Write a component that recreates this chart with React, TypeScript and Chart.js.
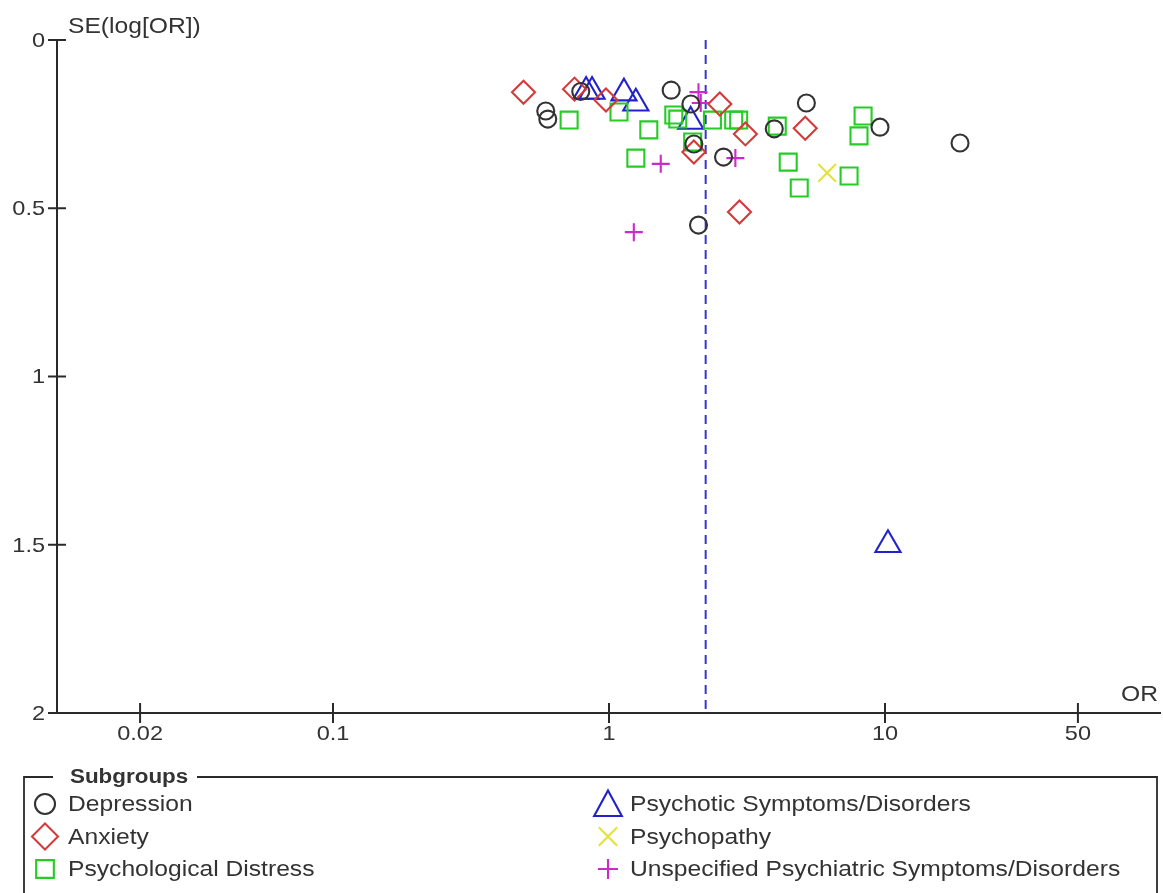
import React, { useEffect, useRef } from "react";
import { Chart, registerables } from "chart.js";

Chart.register(...registerables);

// ---- Data (OR on log scale, SE of log OR) ----
const depressionOR = [0.79, 0.59, 0.6, 1.68, 1.98, 2.03, 2.6, 2.11, 3.97, 5.19, 9.59, 18.7];
const depressionSE = [0.153, 0.211, 0.235, 0.149, 0.19, 0.309, 0.348, 0.55, 0.264, 0.187, 0.259, 0.306];

const anxietyOR = [0.49, 0.75, 0.975, 2.52, 2.03, 3.12, 5.14, 2.97];
const anxietySE = [0.155, 0.146, 0.178, 0.19, 0.333, 0.279, 0.262, 0.511];

const psychoticOR = [0.826, 0.868, 1.133, 1.251, 1.977, 10.25];
const psychoticSE = [0.153, 0.153, 0.158, 0.188, 0.242, 1.5];

const distressOR = [0.717, 1.087, 1.394, 1.251, 1.717, 1.775, 2.37, 2.83, 2.95, 2.01, 4.07, 4.46, 4.89, 7.41, 8.33, 8.05];
const distressSE = [0.238, 0.214, 0.267, 0.351, 0.223, 0.235, 0.238, 0.238, 0.238, 0.303, 0.256, 0.363, 0.44, 0.404, 0.226, 0.285];

const psychopathyOR = [6.17];
const psychopathySE = [0.395];

const unspecifiedOR = [2.11, 2.15, 2.87, 1.54, 1.23];
const unspecifiedSE = [0.155, 0.187, 0.351, 0.368, 0.571];

const pooledOR = 2.24;

const xTickValues = [0.02, 0.1, 1, 10, 50];
const xTickLabels = ["0.02", "0.1", "1", "10", "50"];
const yTickValues = [0, 0.5, 1, 1.5, 2];
const yTickLabels = ["0", "0.5", "1", "1.5", "2"];

const xMin = 0.01;
const xMax = 100;
const yMin = 0;
const yMax = 2;

const yAxisTitle = "SE(log[OR])";
const xAxisTitle = "OR";
const legendTitle = "Subgroups";

const subgroupNames = [
  "Depression",
  "Anxiety",
  "Psychological Distress",
  "Psychotic Symptoms/Disorders",
  "Psychopathy",
  "Unspecified Psychiatric Symptoms/Disorders",
];

// ---- Styles ----
const W = 1163;
const H = 893;
const FONT = "'Liberation Sans', Arial, sans-serif";
const TEXT_COLOR = "#333333";
const AXIS_COLOR = "#2a2a2a";
const SX = 1.12;
const MARK_W = 2.1;

const styles = [
  { style: "circle", color: "#333333", radius: 8.5, legendRadius: 10 },
  { style: "rectRot", color: "#d43a3a", radius: 11.5, legendRadius: 13 },
  { style: "rect", color: "#26cc26", radius: 12, legendRadius: 12.5 },
  { style: "triangle", color: "#2222cc", radius: 14.5, legendRadius: 16 },
  { style: "crossRot", color: "#e4e23a", radius: 12.5, legendRadius: 13 },
  { style: "cross", color: "#cc2acc", radius: 9, legendRadius: 10 },
];

function zip(xs: number[], ys: number[]) {
  return xs.map((x, i) => ({ x, y: ys[i] }));
}

function drawText(
  ctx: CanvasRenderingContext2D,
  s: string,
  x: number,
  y: number,
  align: CanvasTextAlign,
  baseline: CanvasTextBaseline,
  font: string,
  color = TEXT_COLOR
) {
  ctx.save();
  ctx.font = font;
  ctx.fillStyle = color;
  ctx.textAlign = align;
  ctx.textBaseline = baseline;
  ctx.translate(x, y);
  ctx.scale(SX, 1);
  ctx.fillText(s, 0, 0);
  ctx.restore();
}

function drawMarker(ctx: CanvasRenderingContext2D, style: string, x: number, y: number, r: number, color: string) {
  ctx.save();
  ctx.strokeStyle = color;
  ctx.lineWidth = MARK_W;
  ctx.beginPath();
  if (style === "circle") {
    ctx.arc(x, y, r, 0, Math.PI * 2);
  } else if (style === "rectRot") {
    ctx.moveTo(x - r, y);
    ctx.lineTo(x, y - r);
    ctx.lineTo(x + r, y);
    ctx.lineTo(x, y + r);
    ctx.closePath();
  } else if (style === "rect") {
    const s = Math.SQRT1_2 * r;
    ctx.rect(x - s, y - s, 2 * s, 2 * s);
  } else if (style === "triangle") {
    const h = r * 0.75;
    ctx.moveTo(x, y - h - r * 0.1);
    ctx.lineTo(x + r * 0.866, y + h);
    ctx.lineTo(x - r * 0.866, y + h);
    ctx.closePath();
  } else if (style === "crossRot") {
    const o = Math.SQRT1_2 * r;
    ctx.moveTo(x - o, y - o);
    ctx.lineTo(x + o, y + o);
    ctx.moveTo(x + o, y - o);
    ctx.lineTo(x - o, y + o);
  } else if (style === "cross") {
    ctx.moveTo(x - r, y);
    ctx.lineTo(x + r, y);
    ctx.moveTo(x, y - r);
    ctx.lineTo(x, y + r);
  }
  ctx.stroke();
  ctx.restore();
}

const funnelPlugin = {
  id: "funnelDecor",
  beforeDatasetsDraw(chart: any) {
    const ctx: CanvasRenderingContext2D = chart.ctx;
    const xs = chart.scales.x;
    const ys = chart.scales.y;
    const left = xs.getPixelForValue(xMin);
    const right = xs.getPixelForValue(xMax);
    const top = ys.getPixelForValue(yMin);
    const bottom = ys.getPixelForValue(yMax);

    ctx.save();
    ctx.strokeStyle = AXIS_COLOR;
    ctx.lineWidth = 2;
    ctx.beginPath();
    ctx.moveTo(left, top);
    ctx.lineTo(left, bottom);
    ctx.stroke();
    ctx.beginPath();
    ctx.moveTo(left - 9, bottom);
    ctx.lineTo(right, bottom);
    ctx.stroke();
    yTickValues.forEach((v, i) => {
      const py = ys.getPixelForValue(v);
      ctx.beginPath();
      ctx.moveTo(left - 9, py);
      ctx.lineTo(left + 9, py);
      ctx.stroke();
      drawText(ctx, yTickLabels[i], left - 12, py + 1, "right", "middle", `21px ${FONT}`);
    });
    xTickValues.forEach((v, i) => {
      const px = xs.getPixelForValue(v);
      ctx.beginPath();
      ctx.moveTo(px, bottom - 10);
      ctx.lineTo(px, bottom + 10);
      ctx.stroke();
      drawText(ctx, xTickLabels[i], px, bottom + 21, "center", "middle", `21px ${FONT}`);
    });
    ctx.restore();

    drawText(ctx, yAxisTitle, left + 11, top - 7, "left", "alphabetic", `22px ${FONT}`);
    drawText(ctx, xAxisTitle, right - 3, bottom - 12, "right", "alphabetic", `22px ${FONT}`);
  },
  afterDraw(chart: any) {
    const ctx: CanvasRenderingContext2D = chart.ctx;
    const bl = 24, bt = 777, br = 1157, bb = H + 10;
    ctx.save();
    ctx.strokeStyle = AXIS_COLOR;
    ctx.lineWidth = 1.8;
    ctx.beginPath();
    ctx.moveTo(53, bt);
    ctx.lineTo(bl, bt);
    ctx.lineTo(bl, bb);
    ctx.moveTo(br, bb);
    ctx.lineTo(br, bt);
    ctx.lineTo(197, bt);
    ctx.stroke();
    ctx.restore();
    drawText(ctx, legendTitle, 70, bt, "left", "middle", `bold 20px ${FONT}`);

    const rows = [804, 836.5, 869];
    subgroupNames.forEach((name, i) => {
      const col = i < 3 ? 0 : 1;
      const row = i % 3;
      const iconX = col === 0 ? 45 : 608;
      const textX = col === 0 ? 68 : 630;
      const y = rows[row];
      const st = styles[i];
      drawMarker(ctx, st.style, iconX, y, st.legendRadius, st.color);
      drawText(ctx, name, textX, y + 1, "left", "middle", `22px ${FONT}`);
    });
  },
};

export default function App() {
  const ref = useRef<HTMLCanvasElement | null>(null);

  useEffect(() => {
    const canvas = ref.current;
    if (!canvas) return;
    const dataSets = [
      zip(depressionOR, depressionSE),
      zip(anxietyOR, anxietySE),
      zip(distressOR, distressSE),
      zip(psychoticOR, psychoticSE),
      zip(psychopathyOR, psychopathySE),
      zip(unspecifiedOR, unspecifiedSE),
    ];
    const chart = new Chart(canvas, {
      type: "scatter",
      data: {
        datasets: [
          ...dataSets.map((d, i) => ({
            label: subgroupNames[i],
            data: d,
            pointStyle: styles[i].style as any,
            pointRadius: styles[i].radius,
            pointHoverRadius: styles[i].radius,
            borderColor: styles[i].color,
            backgroundColor: "rgba(0,0,0,0)",
            pointBorderWidth: MARK_W,
            borderWidth: MARK_W,
          })),
          {
            type: "line" as const,
            label: "Pooled",
            data: [
              { x: pooledOR, y: yMin },
              { x: pooledOR, y: yMax },
            ],
            borderColor: "#3535d0",
            borderWidth: 2,
            borderDash: [9, 6],
            pointRadius: 0,
            fill: false,
            showLine: true,
          } as any,
        ],
      },
      options: {
        responsive: false,
        animation: false,
        devicePixelRatio: 1,
        layout: { autoPadding: false, padding: { left: 57, top: 40, right: 2, bottom: H - 713 } },
        plugins: { legend: { display: false }, tooltip: { enabled: false } },
        events: [],
        scales: {
          x: { type: "logarithmic", min: xMin, max: xMax, display: false },
          y: { type: "linear", min: yMin, max: yMax, reverse: true, display: false },
        },
      },
      plugins: [funnelPlugin],
    });
    return () => chart.destroy();
  }, []);

  return (
    <div style={{ position: "fixed", left: 0, top: 0, width: W, height: H, background: "#fff" }}>
      <canvas ref={ref} width={W} height={H} style={{ width: W, height: H, display: "block" }} />
    </div>
  );
}
